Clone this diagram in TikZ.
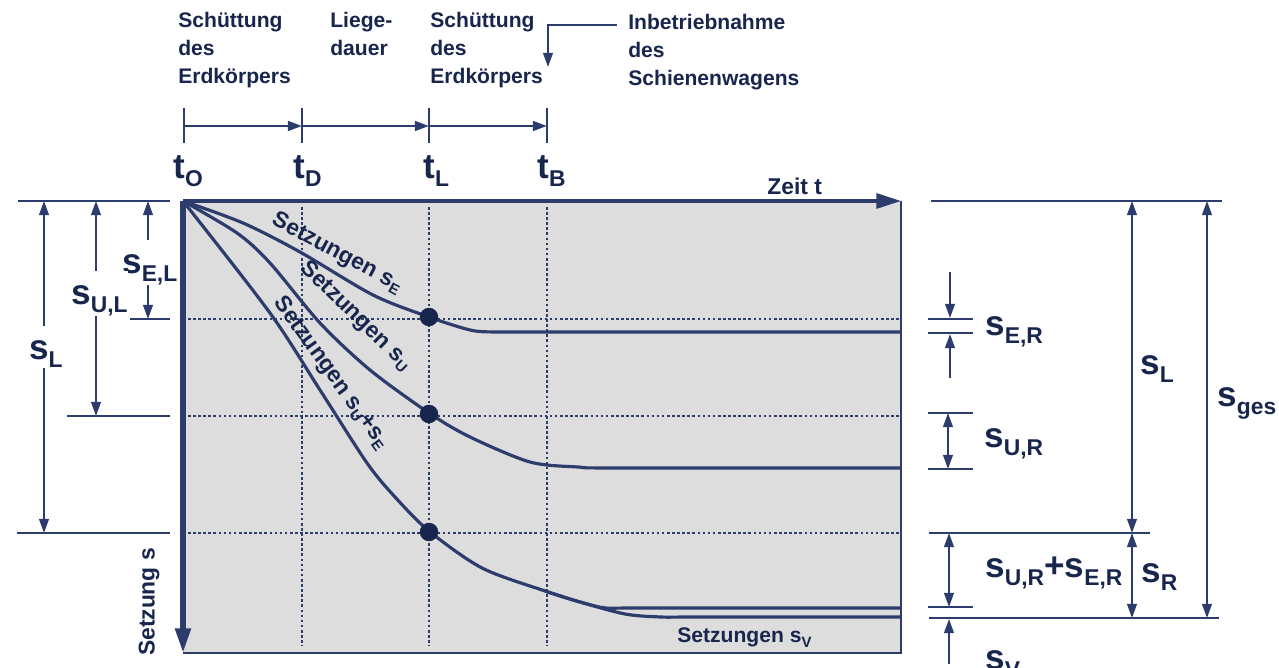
\documentclass[tikz,border=0pt]{standalone}
\usepackage{fontspec}
\setmainfont{Liberation Sans}
\usetikzlibrary{arrows.meta,positioning}
\definecolor{navy}{RGB}{44,60,108}
\definecolor{navytext}{RGB}{24,38,78}
\definecolor{plotgray}{RGB}{221,221,222}
% symbol with lowered subscript
\newcommand{\sym}[2]{#1\raisebox{-4.5pt}{\fontsize{13}{13}\selectfont #2}}
\newcommand{\ksym}[2]{#1\raisebox{-2.5pt}{\fontsize{8.5}{8.5}\selectfont #2}}
\tikzset{
	%Define standard arrow tip
	>={Triangle[length=8pt,width=5.5pt]},
	% big arrow tip for the axes
	achse/.style={-{Triangle[length=14pt,width=8.5pt]}, navy},
	% thin navy line
	linie/.style={navy, line width=1.1pt},
	% dimension arrows
	mass/.style={<->, linie},
	% big symbol labels
	gross/.style={font=\bfseries\fontsize{20}{20}\selectfont, text=navytext, inner sep=0pt},
	% label that splits a dimension arrow
	trenn/.style={gross, fill=white, text height=19pt},
	% plain text
	txt/.style={font=\bfseries\fontsize{12}{16}\selectfont, text=navytext, align=left, inner sep=0pt},
	% curve labels
	ktxt/.style={font=\bfseries\fontsize{13}{13}\selectfont, text=navytext, inner sep=0pt},
	% settlement curves
	kurve/.style={navy, line width=1.8pt, line join=round},
	raster/.style={navy, line width=1.7pt, dash pattern=on 1.5pt off 1.4pt},
	punkt/.style={circle, fill=navytext, inner sep=0pt, minimum size=10.5pt}
}

\begin{document}
\begin{tikzpicture}[x=0.02cm, y=-0.02cm]
	\useasboundingbox (0,0) rectangle (1279,668);
	
	% diagram area
	\coordinate (O) at (183,201);
	\coordinate (E) at (901,201);
	\coordinate (S) at (183,653);
	\fill[plotgray] (O) rectangle (901,653);
	\draw[navy, line width=1.6pt] (E) -- (901,653) -- (S);
	
	% grid
	\foreach \x in {302,429,547}
		\draw[raster] (\x,207) -- (\x,646);
	\foreach \y in {319,416,533}
		\draw[raster] (188,\y) -- (899,\y);
	
	% axes
	\draw[achse, line width=1.8pt] (O) -- (E);
	\draw[achse, line width=3pt] (O) -- (S);
	\node[ktxt, anchor=base west] (zeit) at (767,195) {Zeit t};
	\node[ktxt, rotate=90] (setz) at (149,602) {Setzung s};
	
	% settlement curves
	\draw[kurve] plot[smooth, tension=0.5] coordinates {(183,201) (243,223) (300,252) (373,295) (429,317) (470,330) (494,332) (530,332) (901,332)};
	\draw[kurve] plot[smooth, tension=0.5] coordinates {(183,201) (237,233) (270,263) (320,323) (370,370) (429,413) (470,437) (530,462) (578,467) (615,468) (901,468)};
	\draw[kurve] plot[smooth, tension=0.5] coordinates {(183,201) (270,313) (320,390) (367,463) (395,497) (429,531) (482,568) (545,591) (580,602) (606,608) (640,608) (901,608)};
	\draw[kurve] plot[smooth, tension=0.5] coordinates {(545,591) (580,602) (625,614) (661,617) (700,617) (901,617)};
	
	\node[punkt] (pE) at (429,317) {};
	\node[punkt] (pU) at (429,414) {};
	\node[punkt] (pUE) at (429,532) {};
	
	\node[ktxt, rotate=-28] (kE) at (337,253) {Setzungen \ksym{s}{E}};
	\node[ktxt, rotate=-44] (kU) at (356,316) {Setzungen \ksym{s}{U}};
	\node[ktxt, rotate=-54] (kUE) at (331,373) {Setzungen \ksym{s}{U}+\ksym{s}{E}};
	\node[ktxt, anchor=base west, font=\bfseries\fontsize{12}{12}\selectfont] (kV) at (677,643) {Setzungen \ksym{s}{V}};
	
	% time line
	\foreach \x/\n in {184/O,302/D,429/L,547/B}{
		\coordinate (t\n) at (\x,126);
		\draw[linie] (\x,108) -- (\x,143);
	}
	\draw[->, linie, line width=1.4pt] (tO) -- (tD);
	\draw[->, linie, line width=1.4pt] (tD) -- (tL);
	\draw[->, linie, line width=1.4pt] (tL) -- (tB);
	
	\node[gross, anchor=base west] (lO) at (173,179) {\sym{t}{O}};
	\node[gross, anchor=base west] (lD) at (293,179) {\sym{t}{D}};
	\node[gross, anchor=base west] (lL) at (423,179) {\sym{t}{L}};
	\node[gross, anchor=base west] (lB) at (537,179) {\sym{t}{B}};
	
	\node[txt, anchor=north west] (sch1) at (178,12) {Schüttung\\des\\Erdkörpers};
	\node[txt, anchor=north west] (liege) at (330,12) {Liege-\\dauer};
	\node[txt, anchor=north west] (sch2) at (430,12) {Schüttung\\des\\Erdkörpers};
	\node[txt, anchor=north west] (inb) at (628,14) {Inbetriebnahme\\des\\Schienenwagens};
	\coordinate (inbA) at (617,25);
	\coordinate (inbB) at (548,67);
	\draw[->, linie] (inbA) -| (inbB);
	
	% left dimensions
	\foreach \y/\a in {201/18,319/130,416/67,533/17}
		\draw[linie] (\a,\y) -- (170,\y);
	\coordinate (sEL0) at (148,201); \coordinate (sEL1) at (148,319);
	\coordinate (sUL0) at (96,201);  \coordinate (sUL1) at (96,416);
	\coordinate (sL0) at (44,201);   \coordinate (sL1) at (44,533);
	\draw[mass] (sEL0) -- (sEL1) node[trenn, pos=0.52, xshift=1pt] (sEL) {\sym{s}{E,L}};
	\draw[mass] (sUL0) -- (sUL1) node[trenn, pos=0.43, xshift=2pt] (sUL) {\sym{s}{U,L}};
	\draw[mass] (sL0) -- (sL1) node[trenn, pos=0.44, xshift=1pt] (sL) {\sym{s}{L}};
	
	% right dimensions
	\draw[linie] (931,201) -- (1222,201);
	\foreach \y in {319,333,413,469,607}
		\draw[linie] (928,\y) -- (973,\y);
	\draw[linie] (929,533) -- (1150,533);
	\draw[linie] (929,618) -- (1219,618);
	
	\coordinate (ER0) at (950,272); \coordinate (ER1) at (950,318);
	\coordinate (ER2) at (950,378); \coordinate (ER3) at (950,334);
	\draw[->, linie] (ER0) -- (ER1);
	\draw[->, linie] (ER2) -- (ER3);
	\coordinate (UR0) at (948,413); \coordinate (UR1) at (948,469);
	\draw[mass] (UR0) -- (UR1);
	\coordinate (RR0) at (949,533); \coordinate (RR1) at (949,607);
	\draw[mass] (RR0) -- (RR1);
	\coordinate (V0) at (949,664); \coordinate (V1) at (949,619);
	\draw[->, linie] (V0) -- (V1);
	\coordinate (L0) at (1132,201); \coordinate (L1) at (1132,533); \coordinate (L2) at (1132,618);
	\draw[mass] (L0) -- (L1);
	\draw[mass] (L1) -- (L2);
	\coordinate (G0) at (1207,201); \coordinate (G1) at (1207,618);
	\draw[mass] (G0) -- (G1);
	
	\node[gross, anchor=base west] (sER) at (985,336) {\sym{s}{E,R}};
	\node[gross, anchor=base west] (sUR) at (984,448) {\sym{s}{U,R}};
	\node[gross, anchor=base west] (sUER) at (985,578) {\sym{s}{U,R}+\sym{s}{E,R}};
	\node[gross, anchor=base west] (sV) at (985,670) {\sym{s}{V}};
	\node[gross, anchor=base west] (sLr) at (1140,375) {\sym{s}{L}};
	\node[gross, anchor=base west] (sR) at (1141,583) {\sym{s}{R}};
	\node[gross, anchor=base west] (sges) at (1217,407) {\sym{s}{ges}};
\end{tikzpicture}
\end{document}
